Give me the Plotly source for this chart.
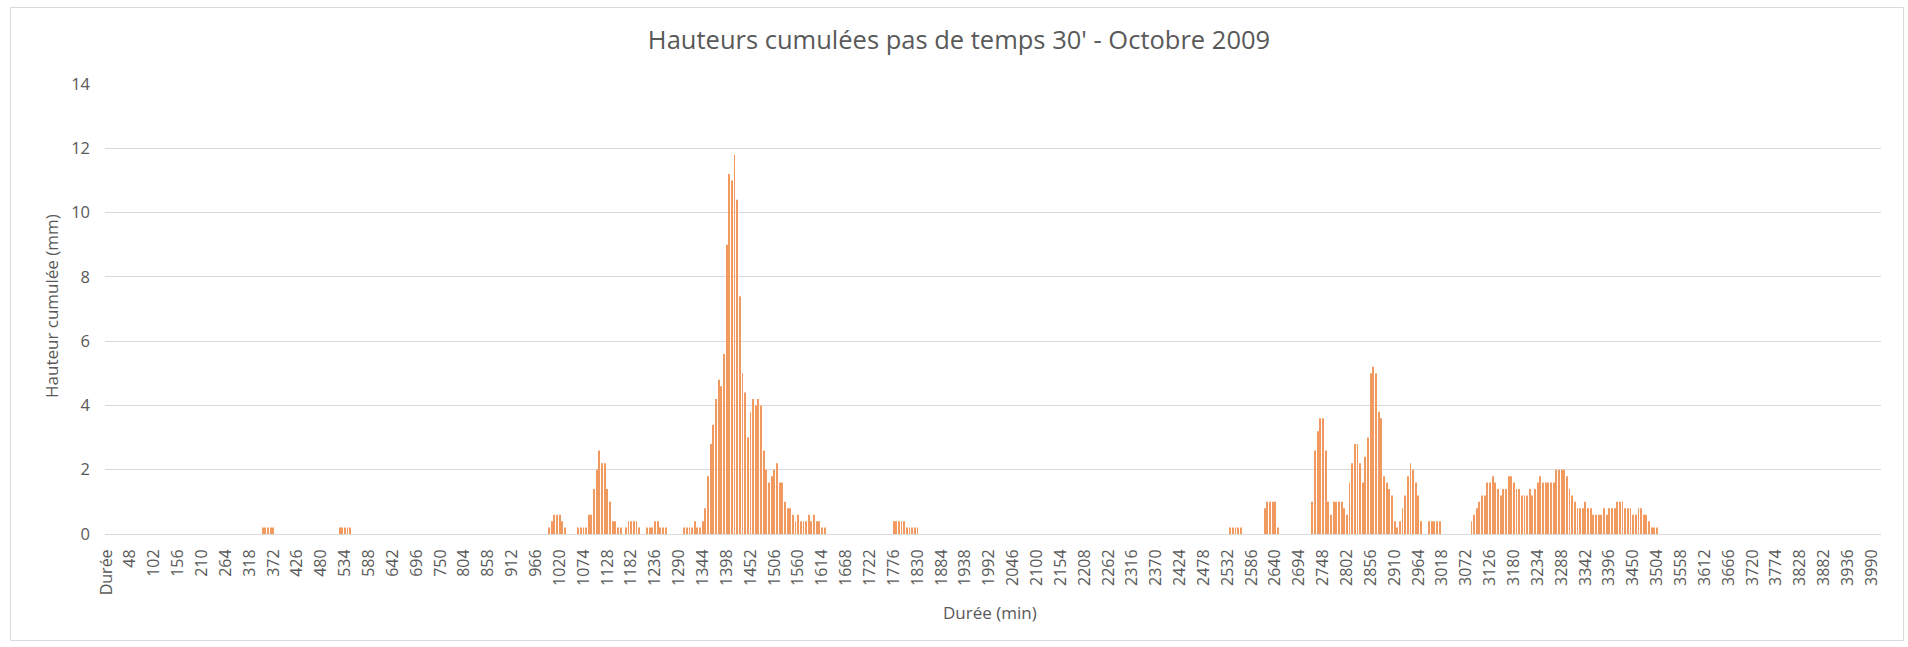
import plotly.graph_objects as go

# Category axis: header cell followed by 6-minute steps
durations = ["Durée"] + [str(6 * i) for i in range(669)]
tick_labels = durations[::9]

# Cumulated rainfall (mm) per rain episode, keyed by first duration (min)
ep_348 = [0.2, 0.2, 0.2, 0.2, 0.2]
ep_522 = [0.2, 0.2, 0.2, 0.2, 0.2]
ep_996 = [0.2, 0.4, 0.6, 0.6, 0.6, 0.4, 0.2, 0, 0, 0, 0, 0.2, 0.2, 0.2, 0.2,
          0.6, 0.6, 1.4, 2.0, 2.6, 2.2, 2.2, 1.4, 1.0, 0.4, 0.4, 0.2, 0.2, 0,
          0.2, 0.4, 0.4, 0.4, 0.4, 0.2, 0, 0, 0.2, 0.2, 0.2, 0.4, 0.4, 0.2,
          0.2, 0.2]
ep_1302 = [0.2, 0.2, 0.2, 0.2, 0.4, 0.2, 0.2, 0.4, 0.8, 1.8, 2.8, 3.4, 4.2,
           4.8, 4.6, 5.6, 9.0, 11.2, 11.0, 11.8, 10.4, 7.4, 5.0, 4.4, 3.0,
           3.8, 4.2, 4.0, 4.2, 4.0, 2.6, 2.0, 1.6, 1.8, 2.0, 2.2, 1.6, 1.6,
           1.0, 0.8, 0.8, 0.6, 0.4, 0.6, 0.4, 0.4, 0.4, 0.6, 0.4, 0.6, 0.4,
           0.4, 0.2, 0.2]
ep_1776 = [0.4, 0.4, 0.4, 0.4, 0.4, 0.2, 0.2, 0.2, 0.2, 0.2]
ep_2538 = [0.2, 0.2, 0.2, 0.2, 0.2]
ep_2616 = [0.8, 1.0, 1.0, 1.0, 1.0, 0.2]
ep_2724 = [1.0, 2.6, 3.2, 3.6, 3.6, 2.6, 1.0, 0.6, 1.0, 1.0, 1.0, 1.0, 0.8,
           0.6, 1.6, 2.2, 2.8, 2.8, 2.2, 1.6, 2.4, 3.0, 5.0, 5.2, 5.0, 3.8,
           3.6, 1.8, 1.6, 1.4, 1.2, 0.4, 0.2, 0.4, 0.8, 1.2, 1.8, 2.2, 2.0,
           1.6, 1.2, 0.4, 0, 0, 0.4, 0.4, 0.4, 0.4, 0.4]
ep_3084 = [0.4, 0.6, 0.8, 1.0, 1.2, 1.2, 1.6, 1.6, 1.8, 1.6, 1.4, 1.2, 1.4,
           1.4, 1.8, 1.8, 1.6, 1.4, 1.4, 1.2, 1.2, 1.2, 1.4, 1.2, 1.4, 1.6,
           1.8, 1.6, 1.6, 1.6, 1.6, 1.6, 2.0, 2.0, 2.0, 2.0, 1.8, 1.4, 1.2,
           1.0, 0.8, 0.8, 0.8, 1.0, 0.8, 0.8, 0.6, 0.6, 0.6, 0.6, 0.8, 0.6,
           0.8, 0.8, 0.8, 1.0, 1.0, 1.0, 0.8, 0.8, 0.8, 0.6, 0.6, 0.8, 0.8,
           0.6, 0.6, 0.4, 0.2, 0.2, 0.2]

episodes = [(348, ep_348), (522, ep_522), (996, ep_996), (1302, ep_1302),
            (1776, ep_1776), (2538, ep_2538), (2616, ep_2616),
            (2724, ep_2724), (3084, ep_3084)]

heights = [0.0] * len(durations)
for start, values in episodes:
    first = durations.index(str(start))
    for k, v in enumerate(values):
        heights[first + k] = v

TEXT = "#595959"
GRID = "#D9D9D9"
BAR = "#F2995F"
FONT = "Open Sans"

fig = go.Figure(
    go.Bar(
        x=durations,
        y=heights,
        marker=dict(color=BAR, line=dict(width=0)),
        hoverinfo="x+y",
    )
)

# plot area: 105..1881 px horizontally, 84..534 px vertically
L, R, T, B = 105, 27, 84, 113
W, H = 1908, 647
pw, ph = W - L - R, H - T - B


def px(xpix):
    return (xpix - L) / pw


def py(ypix):
    return (T + ph - ypix) / ph


fig.update_layout(
    width=W,
    height=H,
    margin=dict(l=L, r=R, t=T, b=B),
    paper_bgcolor="white",
    plot_bgcolor="white",
    bargap=0.66,
    showlegend=False,
    font=dict(family=FONT, color=TEXT, size=16),
    title=dict(
        text="Hauteurs cumulées pas de temps 30' - Octobre 2009",
        font=dict(family=FONT, size=25.5, color=TEXT),
        x=959 / W,
        xanchor="center",
        xref="container",
        y=1 - 40 / H,
        yanchor="middle",
        yref="container",
    ),
    xaxis=dict(
        type="category",
        categoryorder="array",
        categoryarray=durations,
        tickmode="array",
        tickvals=tick_labels,
        ticktext=tick_labels,
        tickangle=-90,
        tickfont=dict(family=FONT, size=16, color=TEXT),
        ticks="",
        ticklabelstandoff=8,
        showgrid=False,
        showline=True,
        linecolor=GRID,
        linewidth=1,
        zeroline=False,
        range=[-0.5, len(durations) - 0.5],
    ),
    yaxis=dict(
        range=[0, 14],
        tickvals=[0, 2, 4, 6, 8, 10, 12, 14],
        tickfont=dict(family=FONT, size=16.5, color=TEXT),
        ticks="",
        ticklabelstandoff=14,
        showgrid=True,
        gridcolor=GRID,
        gridwidth=1,
        zeroline=False,
        showline=False,
    ),
    annotations=[
        dict(
            text="Hauteur cumulée (mm)",
            xref="paper",
            yref="paper",
            x=px(51),
            y=py(306),
            textangle=-90,
            showarrow=False,
            font=dict(family=FONT, size=17, color=TEXT),
            xanchor="center",
            yanchor="middle",
        ),
        dict(
            text="Durée (min)",
            xref="paper",
            yref="paper",
            x=px(990),
            y=py(612),
            showarrow=False,
            font=dict(family=FONT, size=17, color=TEXT),
            xanchor="center",
            yanchor="middle",
        ),
    ],
    shapes=[
        dict(
            type="rect",
            xref="paper",
            yref="paper",
            x0=px(10.5),
            x1=px(1903.5),
            y0=py(640.5),
            y1=py(7.5),
            line=dict(color=GRID, width=1),
            fillcolor="rgba(0,0,0,0)",
            layer="below",
        )
    ],
)

fig.write_html("out.html")
